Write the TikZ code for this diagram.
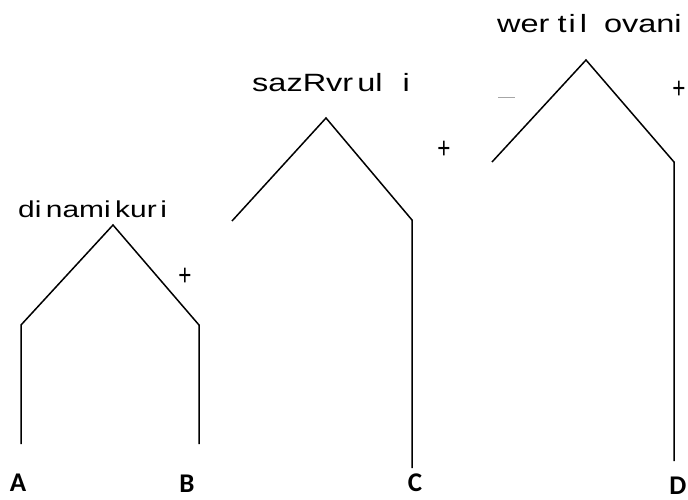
\documentclass[tikz,border=0pt]{standalone}
\usepackage{fontspec}
\setmainfont{Liberation Sans}
\newfontfamily\gf[FakeStretch=1.3]{Liberation Sans}
\newfontfamily\labfont{Carlito}
\newcommand\gk[1]{\kern#1pt\relax}
\begin{document}
\begin{tikzpicture}[x=1pt,y=-1pt,
  branch/.style={line width=1.5pt,line join=miter},
  word/.style={anchor=base west,inner sep=0pt,font=\gf\fontsize{25}{28}\selectfont},
  smallword/.style={word,font=\gf\fontsize{23}{26}\selectfont},
  sign/.style={inner sep=0pt,font=\fontsize{30}{30}\selectfont},
  letter/.style={anchor=base,inner sep=0pt,font=\labfont\bfseries\fontsize{27}{30}\selectfont}]
\useasboundingbox (0,0) rectangle (688,500);
% shape 1
\coordinate (a1) at (21,444);
\coordinate (a2) at (21,325);
\coordinate (a3) at (113,225);
\coordinate (a4) at (199,325);
\coordinate (a5) at (199,444);
\draw[branch] (a1) -- (a2) -- (a3) -- (a4) -- (a5);
% shape 2
\coordinate (b1) at (232,221);
\coordinate (b2) at (326,118);
\coordinate (b3) at (412,220);
\coordinate (b4) at (412,468);
\draw[branch] (b1) -- (b2) -- (b3) -- (b4);
% shape 3
\coordinate (c1) at (492,162);
\coordinate (c2) at (586,60);
\coordinate (c3) at (674,162);
\coordinate (c4) at (674,461);
\draw[branch] (c1) -- (c2) -- (c3) -- (c4);
% words
\node[smallword] (w1) at (18,217) {di\gk{4.5}nami\gk{4.5}kur\gk{3.5}i};
\node[word] (w2) at (252,92) {sazRvr\gk{4}ul\gk{20}i};
\node[word] (w3) at (497,33) {wer\gk{8}t\gk{2}i\gk{4}l\gk{17}ovani};
% signs
\node[sign] (p1) at (185,277) {\scalebox{0.75}[1]{+}};
\node[sign] (p2) at (444,150) {\scalebox{0.75}[1]{+}};
\node[sign] (p3) at (679,90) {\scalebox{0.75}[1]{+}};
\coordinate (m1) at (498,98);
\coordinate (m2) at (515,98);
\draw[line width=1pt,black!35] (m1) -- (m2);
% letters
\node[letter] (A) at (18,491) {A};
\node[letter] (B) at (187,492) {B};
\node[letter] (C) at (415,491) {C};
\node[letter] (D) at (678,494) {D};
\end{tikzpicture}
\end{document}
